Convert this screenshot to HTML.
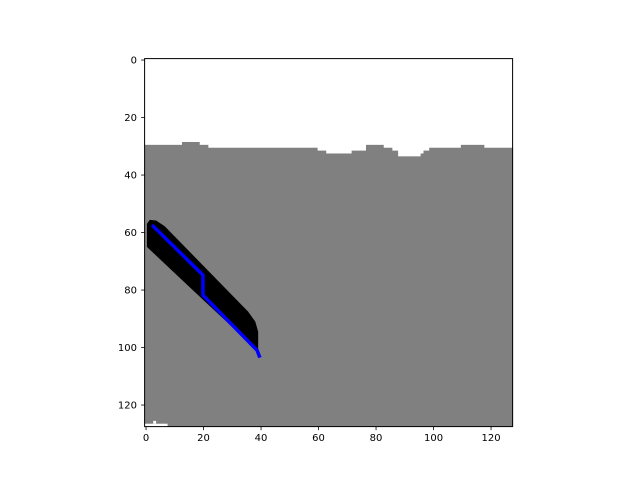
<!DOCTYPE html>
<html><head><meta charset="utf-8"><style>body{margin:0;background:#fff}svg{display:block}text{font-family:"DejaVu Sans","Liberation Sans",sans-serif;font-size:10px;fill:#000}</style></head>
<body>
<svg width="640" height="480" id="s">
<g id="plot"></g>
<rect x="144.6" y="58.6" width="368" height="368" fill="none" stroke="#000" stroke-width="1"/>
<g id="ticks"></g>
</svg>
<script>
// surface: [startCol, topRow]
const surfaceCols=[0,13,19,22,60,63,72,77,83,86,88,96,97,99,110,118];
const surfaceRows=[30,29,30,31,32,33,32,30,31,32,34,33,32,31,30,31];
const blobCols=[0.8,1.8,4,7,36,38.5,39.5,39.5,39.1,19.3,0.8];
const blobRows=[57.5,56.1,56.3,58.3,88,91.5,95,101.4,101.4,82.9,65.5];
const pathCols=[2.6,20.3,20.3,39.1,40.1];
const pathRows=[57.9,75.3,82.3,101.4,104];
const tickVals=[0,20,40,60,80,100,120];
const X0=144.6,Y0=58.6,S=368/128;
const sx=c=>X0+c*S, sy=r=>Y0+r*S;
const ns='http://www.w3.org/2000/svg';
const plot=document.getElementById('plot'), tk=document.getElementById('ticks');
function mk(t,a,p){const e=document.createElementNS(ns,t);for(const k in a)e.setAttribute(k,a[k]);p.appendChild(e);return e;}
for(let i=0;i<surfaceCols.length;i++){
  const c0=surfaceCols[i], c1=i+1<surfaceCols.length?surfaceCols[i+1]:128;
  const r=mk('rect',{x:sx(c0),y:sy(surfaceRows[i]),width:(c1-c0)*S+0.5,height:(128-surfaceRows[i])*S,fill:'#808080'},plot);
  
  
}
const w1=mk('rect',{x:sx(0),y:sy(127),width:8*S,height:S,fill:'#fff'},plot);


const w2=mk('rect',{x:sx(3),y:sy(126),width:S,height:S,fill:'#fff'},plot);


const blob=mk('polygon',{points:blobCols.map((c,i)=>sx(c)+','+sy(blobRows[i])).join(' '),fill:'#000'},plot);


const pl=mk('polyline',{points:pathCols.map((c,i)=>sx(c)+','+sy(pathRows[i])).join(' '),fill:'none',stroke:'#0000ff','stroke-width':3.5},plot);


tickVals.forEach(v=>{
  const xx=X0+(v+0.5)*S;
  const yy=Y0+(v+0.5)*S;
  mk('line',{x1:xx,x2:xx,y1:426.6,y2:430.1,stroke:'#000','stroke-width':0.8},tk);
  const t=mk('text',{x:xx,y:441,'text-anchor':'middle'},tk);t.textContent=v;
  
  
  mk('line',{x1:141.1,x2:144.6,y1:yy,y2:yy,stroke:'#000','stroke-width':0.8},tk);
  const u=mk('text',{x:137,y:yy+3.6,'text-anchor':'end'},tk);u.textContent=v;
  
  
});
</script>
</body></html>
